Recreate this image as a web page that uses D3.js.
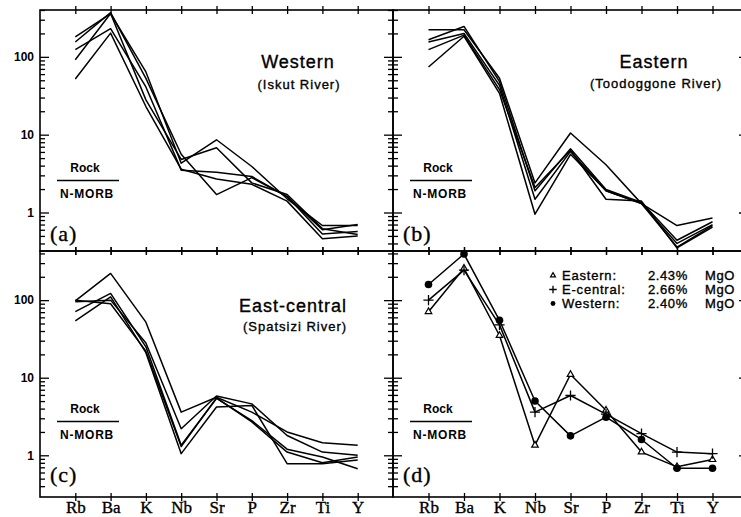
<!DOCTYPE html>
<html>
<head>
<meta charset="utf-8">
<script src="https://d3js.org/d3.v7.min.js"></script>
<style>
body { margin: 0; background: #fff; }
.sans { font-family: "Liberation Sans", Arial, sans-serif; fill: #000; }
.serif { font-family: "Liberation Serif", "Times New Roman", serif; fill: #000; }
.heavy { stroke: #000; stroke-width: 0.35px; }
</style>
</head>
<body>
<script>

// ---- data (Rock / N-MORB) ----
var elements = ["Rb", "Ba", "K", "Nb", "Sr", "P", "Zr", "Ti", "Y"];

var western = [
  [180, 360, 64, 4.3, 8.6, 3.9, 1.5, 0.68, 0.68],
  [155, 370, 53, 5.6, 1.7, 2.8, 1.6, 0.60, 0.70],
  [124, 230, 41, 3.5, 3.3, 2.9, 1.6, 0.53, 0.57],
  [92, 360, 28, 4.8, 6.8, 2.4, 1.7, 0.62, 0.52],
  [52, 202, 23, 3.6, 2.7, 2.3, 1.4, 0.46, 0.50]
];

var eastern = [
  [223, 223, 53, 2.4, 10.5, 4.1, 1.3, 0.68, 0.85],
  [166, 246, 48, 1.9, 6.6, 1.97, 1.35, 0.44, 0.76],
  [155, 200, 43, 1.48, 6.1, 1.9, 1.3, 0.40, 0.70],
  [124, 190, 38, 2.1, 6.3, 1.48, 1.4, 0.35, 0.65],
  [74, 184, 34, 0.95, 5.6, 1.9, 1.3, 0.36, 0.68]
];

var eastCentral = [
  [98, 221, 52, 3.6, 5.6, 3.6, 2.0, 1.45, 1.35],
  [95, 100, 28, 2.2, 5.8, 4.6, 1.8, 1.1, 1.0],
  [71, 122, 25, 1.35, 5.4, 2.8, 1.2, 0.95, 0.67],
  [54, 110, 21, 1.05, 4.2, 4.4, 0.78, 0.78, 0.87],
  [100, 90, 22, 1.3, 5.5, 2.7, 1.1, 0.80, 0.95]
];

var avgEastern   = [71, 257, 35, 1.35, 11, 3.8, 1.1, 0.71, 0.88];
var avgECentral  = [100, 244, 48, 3.6, 5.9, 3.4, 1.9, 1.1, 1.05];
var avgWestern   = [159, 393, 55, 5.0, 1.78, 3.1, 1.6, 0.68, 0.68];

var legendNames = ["Eastern:", "E-central:", "Western:"];
var legendMgO = ["2.43%", "2.66%", "2.40%"];

var majorTicks = [1, 10, 100];
var minorTicks = [0.4, 0.5, 0.6, 0.7, 0.8, 0.9, 2, 3, 4, 5, 6, 7, 8, 9,
                  20, 30, 40, 50, 60, 70, 80, 90, 200, 300, 400];

// ---- layout ----
var svg = d3.select("body").append("svg")
    .attr("width", 741)
    .attr("height", 517);

svg.append("rect").attr("width", 741).attr("height", 517).attr("fill", "#fff");

var panels = [
  {tag: "(a)", x0: 40, x1: 393, y0: 10, y1: 251, dom: [0.32, 400], series: western,
   title: "Western", sub: "(Iskut River)", tx: 298, ty: 68, sx: 299, sy: 89, yLabels: true, xLabels: false},
  {tag: "(b)", x0: 393, x1: 748, y0: 10, y1: 251, dom: [0.32, 400], series: eastern,
   title: "Eastern", sub: "(Toodoggone River)", tx: 654, ty: 68, sx: 656, sy: 88, yLabels: false, xLabels: false},
  {tag: "(c)", x0: 40, x1: 393, y0: 251, y1: 497, dom: [0.29, 430], series: eastCentral,
   title: "East-central", sub: "(Spatsizi River)", tx: 293, ty: 312, sx: 295, sy: 331, yLabels: true, xLabels: true},
  {tag: "(d)", x0: 393, x1: 748, y0: 251, y1: 497, dom: [0.29, 430], series: [avgEastern, avgECentral, avgWestern],
   title: null, yLabels: false, xLabels: true, markers: ["tri", "plus", "circle"]}
];

function marker(sel, kind, size) {
  if (kind === "circle") {
    sel.append("circle").attr("r", size).attr("fill", "#000");
  } else if (kind === "tri") {
    sel.append("path").attr("d", d3.symbol(d3.symbolTriangle2, size * size * 3)())
      .attr("fill", "#fff").attr("stroke", "#000").attr("stroke-width", 1.2);
  } else {
    sel.append("path").attr("d", d3.symbol(d3.symbolPlus, size * size * 3.5)())
      .attr("fill", "none").attr("stroke", "#000").attr("stroke-width", 1.3);
  }
}

panels.forEach(function(p) {
  var x = d3.scalePoint().domain(elements).range([p.x0, p.x1]).padding(1);
  var y = d3.scaleLog().domain(p.dom).range([p.y1, p.y0]);
  var g = svg.append("g");

  // x ticks crossing the top and bottom frame
  [p.y0, p.y1].forEach(function(yy) {
    g.append("g")
      .attr("transform", "translate(0," + (yy - 4) + ")")
      .call(d3.axisBottom(x).tickSize(8).tickFormat(""))
      .call(function(a) { a.select(".domain").remove(); });
  });

  // y ticks, pointing inward from both sides
  [[minorTicks, 5], [majorTicks, 9]].forEach(function(t) {
    g.append("g")
      .attr("transform", "translate(" + p.x0 + ",0)")
      .call(d3.axisRight(y).tickValues(t[0]).tickSize(t[1]).tickFormat(""))
      .call(function(a) { a.select(".domain").remove(); });
    g.append("g")
      .attr("transform", "translate(" + p.x1 + ",0)")
      .call(d3.axisLeft(y).tickValues(t[0]).tickSize(t[1]).tickFormat(""))
      .call(function(a) { a.select(".domain").remove(); });
  });
  g.selectAll(".tick line").attr("stroke-width", 1.3);

  if (p.yLabels) {
    g.append("g")
      .attr("transform", "translate(" + p.x0 + ",0)")
      .call(d3.axisLeft(y).tickValues(majorTicks).tickSize(0).tickPadding(6).tickFormat(d3.format("d")))
      .call(function(a) {
        a.select(".domain").remove();
        a.selectAll("text").attr("class", "sans").style("font-size", "12px").style("font-weight", "bold");
      });
  }

  if (p.xLabels) {
    g.append("g")
      .attr("transform", "translate(0," + p.y1 + ")")
      .call(d3.axisBottom(x).tickSize(0).tickPadding(4))
      .call(function(a) {
        a.select(".domain").remove();
        a.selectAll("text").attr("class", "serif heavy").style("font-size", "17px");
      });
  }

  // frame
  g.append("rect")
    .attr("x", p.x0).attr("y", p.y0)
    .attr("width", p.x1 - p.x0).attr("height", p.y1 - p.y0)
    .attr("fill", "none").attr("stroke", "#000").attr("stroke-width", 1.6);

  // spider lines
  var line = d3.line()
    .x(function(d, i) { return x(elements[i]); })
    .y(function(d) { return y(d); });

  g.selectAll("path.spider")
    .data(p.series)
    .enter().append("path")
      .attr("class", "spider")
      .attr("d", line)
      .attr("fill", "none")
      .attr("stroke", "#000")
      .attr("stroke-width", 1.5)
      .attr("stroke-linejoin", "round");

  if (p.markers) {
    p.series.forEach(function(s, k) {
      s.forEach(function(v, i) {
        var m = g.append("g").attr("transform", "translate(" + x(elements[i]) + "," + y(v) + ")");
        marker(m, p.markers[k], p.markers[k] === "circle" ? 3.8 : 3.2);
      });
    });

    legendNames.forEach(function(name, k) {
      var yy = 280 + k * 14;
      var m = g.append("g").attr("transform", "translate(553," + (yy - 4.5) + ")");
      marker(m, p.markers[k], 2.4);
      g.append("text").attr("class", "sans heavy").attr("x", 562).attr("y", yy)
        .style("font-size", "13px").style("letter-spacing", "0.8px").text(name);
      g.append("text").attr("class", "sans heavy").attr("x", 648).attr("y", yy)
        .style("font-size", "13px").style("letter-spacing", "0.6px").text(legendMgO[k]);
      g.append("text").attr("class", "sans heavy").attr("x", 705).attr("y", yy)
        .style("font-size", "13px").style("letter-spacing", "0.6px").text("MgO");
    });
  }

  // titles
  if (p.title) {
    g.append("text").attr("class", "sans heavy").attr("x", p.tx).attr("y", p.ty)
      .attr("text-anchor", "middle").style("font-size", "18px").style("letter-spacing", "1px").text(p.title);
    g.append("text").attr("class", "sans heavy").attr("x", p.sx).attr("y", p.sy)
      .attr("text-anchor", "middle").style("font-size", "13px").style("letter-spacing", "1px").text(p.sub);
  }

  // Rock / N-MORB
  g.append("text").attr("class", "sans").attr("x", p.x0 + 45).attr("y", p.y0 + 162)
    .attr("text-anchor", "middle").style("font-size", "12px").style("font-weight", "bold").text("Rock");
  g.append("line")
    .attr("x1", p.x0 + 17).attr("x2", p.x0 + 79)
    .attr("y1", p.y0 + 170.5).attr("y2", p.y0 + 170.5)
    .attr("stroke", "#000").attr("stroke-width", 1.4);
  g.append("text").attr("class", "sans").attr("x", p.x0 + 47).attr("y", p.y0 + 188)
    .attr("text-anchor", "middle").style("font-size", "12px").style("font-weight", "bold")
    .style("letter-spacing", "0.8px").text("N-MORB");

  // panel tag
  g.append("text").attr("class", "serif heavy").attr("x", p.x0 + 10).attr("y", p.y0 + 231)
    .style("font-size", "22px").style("letter-spacing", "1px").text(p.tag);
});

</script>
</body>
</html>
